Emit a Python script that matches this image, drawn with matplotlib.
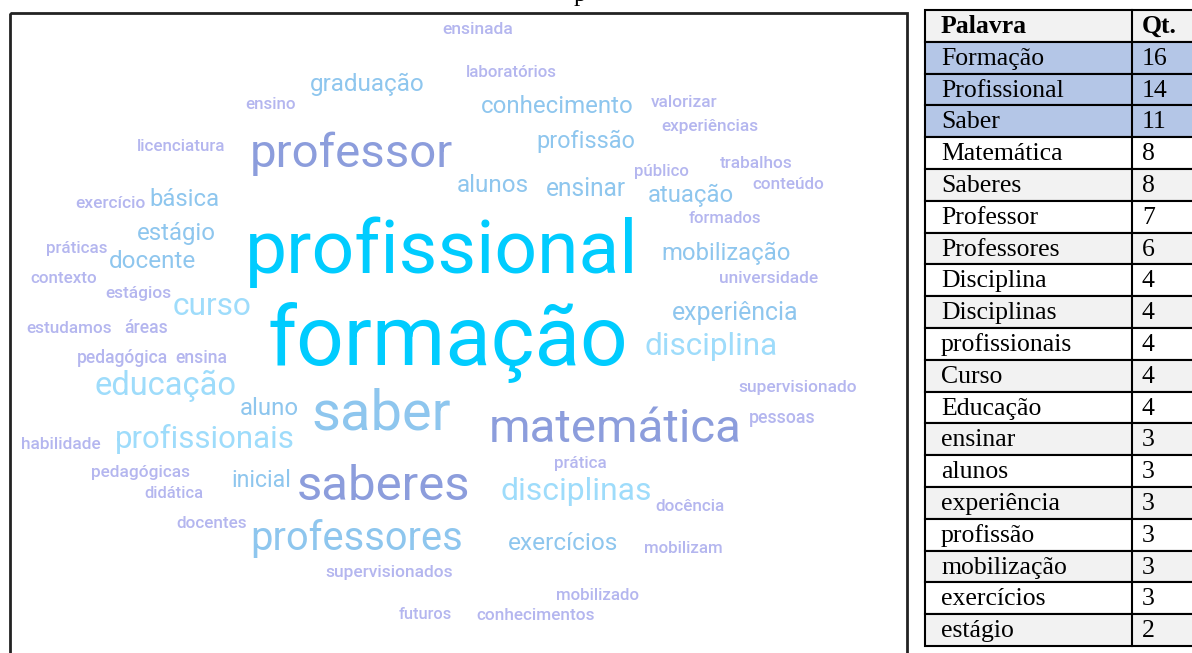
import matplotlib
matplotlib.use('Agg')
import matplotlib.pyplot as plt
from matplotlib.patches import Rectangle

# table data
palavras = ['Formação', 'Profissional', 'Saber', 'Matemática', 'Saberes',
            'Professor', 'Professores', 'Disciplina', 'Disciplinas',
            'profissionais', 'Curso', 'Educação', 'ensinar', 'alunos',
            'experiência', 'profissão', 'mobilização', 'exercícios', 'estágio']
qt = [16, 14, 11, 8, 8, 7, 6, 4, 4, 4, 4, 4, 3, 3, 3, 3, 3, 3, 2]

# word cloud words (tier: 0 = biggest ... 4 = smallest)
cloud_words = ['formação', 'profissional',
               'professor', 'matemática', 'saberes',
               'saber', 'professores',
               'graduação', 'conhecimento', 'profissão', 'alunos', 'ensinar',
               'atuação', 'estágio', 'docente', 'básica', 'mobilização',
               'experiência', 'exercícios', 'inicial', 'aluno',
               'curso', 'educação', 'profissionais', 'disciplina', 'disciplinas',
               'ensinada', 'laboratórios', 'ensino', 'valorizar', 'experiências',
               'licenciatura', 'trabalhos', 'público', 'conteúdo', 'exercício',
               'formados', 'práticas', 'contexto', 'universidade', 'estágios',
               'estudamos', 'áreas', 'pedagógica', 'ensina', 'supervisionado',
               'pessoas', 'habilidade', 'pedagógicas', 'prática', 'didática',
               'docência', 'docentes', 'mobilizam', 'supervisionados',
               'mobilizado', 'futuros', 'conhecimentos']
cloud_tier = [0, 0,
              1, 1, 1,
              2, 2,
              2, 2, 2, 2, 2, 2, 2, 2, 2, 2, 2, 2, 2, 2,
              3, 3, 3, 3, 3,
              4, 4, 4, 4, 4, 4, 4, 4, 4, 4, 4, 4, 4, 4, 4, 4, 4, 4, 4,
              4, 4, 4, 4, 4, 4, 4, 4, 4, 4, 4, 4, 4]

# layout of the cloud: left x, baseline y, width (pixels)
cloud_layout = [(267, 365, 361), (245, 273, 393),
                (250, 167, 203), (489, 442, 252), (297, 500, 173),
                (311, 430, 139), (250, 550, 212),
                (310, 91, 115), (481, 113, 152), (536, 148, 99), (457, 192, 72),
                (546, 196, 80), (648, 202, 86), (137, 240, 79), (109, 268, 87),
                (149, 206, 70), (661, 260, 129), (672, 320, 126), (508, 550, 110),
                (231, 487, 60), (240, 415, 59),
                (173, 315, 79), (94, 395, 142), (115, 448, 180), (645, 355, 133),
                (500, 500, 151),
                (442, 34, 71), (466, 77, 92), (245, 109, 51), (651, 107, 67),
                (661, 131, 98), (137, 151, 89), (720, 168, 73), (634, 176, 55),
                (752, 189, 72), (75, 208, 71), (689, 223, 73), (46, 253, 62),
                (30, 283, 67), (719, 283, 100), (105, 298, 66), (26, 333, 86),
                (124, 333, 44), (77, 363, 92), (175, 363, 52), (738, 392, 119),
                (749, 423, 67), (21, 449, 80), (91, 477, 99), (554, 468, 53),
                (144, 498, 59), (655, 511, 70), (176, 528, 71), (644, 553, 79),
                (325, 577, 128), (556, 600, 84), (399, 619, 53), (476, 620, 119)]
tier_colors = ['#00ccff', '#8c9ddc', '#8ec6ee', '#9edcfb', '#b4b6ef']

W, H = 1192, 653
fig = plt.figure(figsize=(W / 100, H / 100), dpi=100)
ax = fig.add_axes([0, 0, 1, 1])
ax.set_xlim(0, W)
ax.set_ylim(H, 0)
ax.axis('off')

# cut caption above
ax.text(580, 1, 'p', fontsize=18, family='Liberation Serif', ha='center',
        va='baseline', color='black')

# frame of the word cloud
ax.add_patch(Rectangle((10, 13), 897, 700, fill=False, edgecolor='#222222',
                       linewidth=2))

renderer = fig.canvas.get_renderer()
for word, tier, (x, y, w) in zip(cloud_words, cloud_tier, cloud_layout):
    t = ax.text(x, y, word, fontsize=20, family='Roboto', ha='left',
                va='baseline', color=tier_colors[tier],
                fontweight='medium' if tier == 4 else 'normal')
    bb = t.get_window_extent(renderer)
    t.set_fontsize(20 * w / bb.width)

# table
x0, x1, x2 = 925, 1132, 1260
row_h = 31.8
top = 10
rows = [('Palavra', 'Qt.')] + list(zip(palavras, [str(v) for v in qt]))
for i, (p, q) in enumerate(rows):
    y = top + i * row_h
    if i == 0:
        face = '#f2f2f2'
    elif i <= 3:
        face = '#b4c6e7'
    elif i % 2 == 1:
        face = '#f2f2f2'
    else:
        face = 'white'
    ax.add_patch(Rectangle((x0, y), x2 - x0, row_h, facecolor=face,
                           edgecolor='black', linewidth=1.5))
    ax.plot([x1, x1], [y, y + row_h], color='black', linewidth=1.5)
    weight = 'bold' if i == 0 else 'normal'
    ax.text(x0 + 16, y + 23, p, fontsize=18.5, family='Liberation Serif',
            fontweight=weight, ha='left', va='baseline')
    ax.text(x1 + 10, y + 23, q, fontsize=18.5, family='Liberation Serif',
            fontweight=weight, ha='left', va='baseline')

fig.savefig('out.png', dpi=100)
